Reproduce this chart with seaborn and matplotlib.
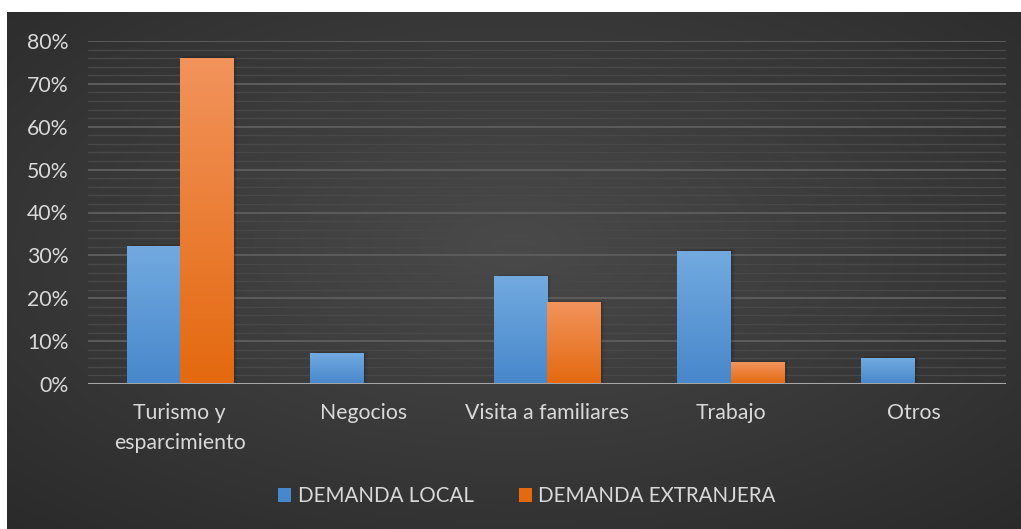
import numpy as np
import pandas as pd
import matplotlib
matplotlib.use('Agg')
import matplotlib.pyplot as plt
import seaborn as sns
from matplotlib.patches import Patch, Rectangle
from matplotlib.colors import LinearSegmentedColormap
from matplotlib.ticker import PercentFormatter, MultipleLocator

# data
categories = ['Turismo y\nesparcimiento', 'Negocios', 'Visita a familiares', 'Trabajo', 'Otros']
series = ['DEMANDA LOCAL', 'DEMANDA EXTRANJERA']
local = [0.32, 0.07, 0.25, 0.31, 0.06]
extranjera = [0.76, 0.0, 0.19, 0.05, 0.0]

df = pd.DataFrame({
    'categoria': categories * 2,
    'serie': [series[0]] * len(categories) + [series[1]] * len(categories),
    'valor': local + extranjera,
})

blue_top, blue_bot = '#72aae0', '#4787cb'
orange_top, orange_bot = '#f2935c', '#e4690f'
text_col = '#d9d9d9'

sns.set_theme(style='white')
plt.rcParams['font.family'] = ['Lato', 'DejaVu Sans']

W, H = 1021, 529
fig = plt.figure(figsize=(W / 100, H / 100), dpi=100)
fig.patch.set_facecolor('white')

# dark radial background of the chart area
bg = fig.add_axes([7 / W, 0, 1 - 7 / W, 1 - 12 / H], zorder=-5)
yy, xx = np.mgrid[0:1:300j, 0:1:600j]
r = np.sqrt(((xx - 0.5) / 0.75) ** 2 + ((yy - 0.45) / 0.75) ** 2)
r = np.clip(r, 0, 1)
gray = 0.29 - 0.125 * r
bg.imshow(np.dstack([gray, gray, gray]), aspect='auto', extent=[0, 1, 0, 1], origin='upper')
bg.set_axis_off()

ax = fig.add_axes([88 / W, 1 - 384 / H, (1006 - 88) / W, (384 - 41) / H])
ax.patch.set_alpha(0)

sns.barplot(data=df, x='categoria', y='valor', hue='serie', order=categories,
            hue_order=series, palette=[blue_bot, orange_bot], width=0.58,
            ax=ax, legend=False, zorder=3, linewidth=0, edgecolor='none')

# gradient fill + soft shadow on every bar (bars are rectangles, so the image
# extent is the bar itself)
cmaps = {blue_bot: LinearSegmentedColormap.from_list('b', [blue_bot, blue_top]),
         orange_bot: LinearSegmentedColormap.from_list('o', [orange_bot, orange_top])}
grad = np.linspace(1, 0, 100).reshape(-1, 1)
for i, p in enumerate(ax.patches[:2 * len(categories)]):
    h = p.get_height()
    p.set_visible(False)
    if h <= 0:
        continue
    x0, w = p.get_x(), p.get_width()
    cm = cmaps[blue_bot] if i < len(categories) else cmaps[orange_bot]
    for k, a in enumerate([0.10, 0.07, 0.04]):
        ax.add_patch(Rectangle((x0 + 0.008 * (k + 1), 0), w, h + 0.002 * (k + 1),
                               facecolor='black', alpha=a, lw=0, zorder=2))
    ax.imshow(grad, cmap=cm, aspect='auto', extent=[x0, x0 + w, 0, h], zorder=3.5,
              interpolation='bilinear')
ax.set_xlim(-0.5, len(categories) - 0.5)
ax.set_ylim(0, 0.8)

# gridlines
ax.yaxis.set_major_locator(MultipleLocator(0.1))
ax.yaxis.set_minor_locator(MultipleLocator(0.02))
ax.yaxis.set_major_formatter(PercentFormatter(1.0, decimals=0))
ax.grid(axis='y', which='major', color='#5c5c5c', lw=1.4, zorder=0)
ax.grid(axis='y', which='minor', color='#484848', lw=1.0, zorder=0)
ax.grid(axis='x', visible=False)
ax.axhline(0, color='#a6a6a6', lw=2.2, zorder=4)
for s in ax.spines.values():
    s.set_visible(False)

ax.tick_params(axis='y', which='both', length=0, pad=14, labelsize=15.3, labelcolor=text_col)
ax.tick_params(axis='x', length=0, pad=14, labelsize=15.3, labelcolor=text_col)
for lbl in ax.get_xticklabels():
    lbl.set_linespacing(1.6)
ax.set_xlabel('')
ax.set_ylabel('')

handles = [Patch(facecolor=blue_bot, edgecolor='none', label=series[0]),
           Patch(facecolor=orange_bot, edgecolor='none', label=series[1])]
fig.legend(handles=handles, loc='center', bbox_to_anchor=(0.516, 1 - 496 / H), ncol=2,
           frameon=False, fontsize=14.8, labelcolor=text_col, handlelength=0.65,
           handleheight=0.65, handletextpad=0.3, columnspacing=2.2)

fig.savefig('out.png', dpi=100)
